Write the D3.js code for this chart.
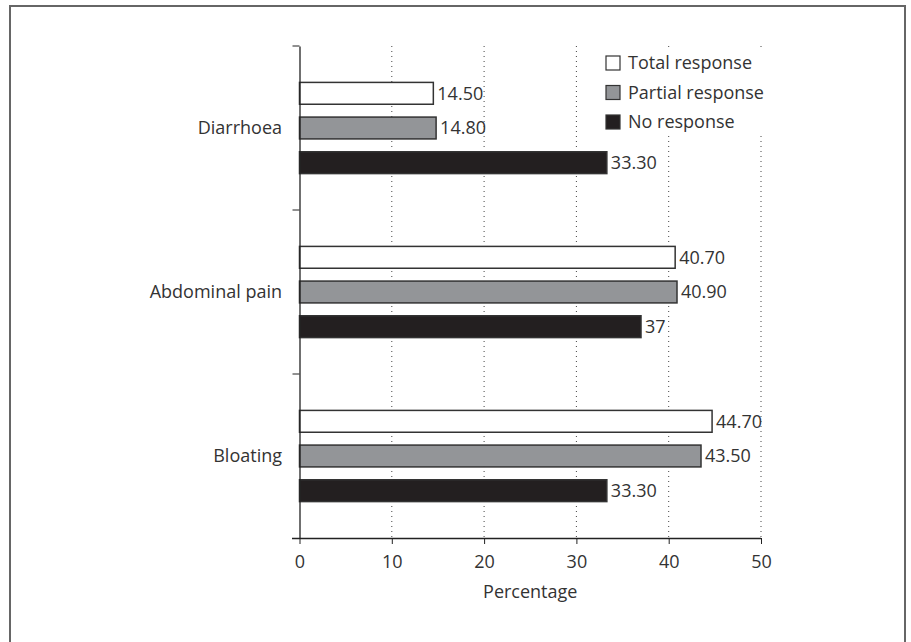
<!DOCTYPE html>
<html><head><meta charset="utf-8">
<script src="https://cdn.jsdelivr.net/npm/d3@7"></script>
<style>body{margin:0;background:#fff}svg{display:block}</style>
</head><body>
<svg id="c" width="911" height="642"></svg>
<script>
const categories = ["Diarrhoea", "Abdominal pain", "Bloating"];
const seriesNames = ["Total response", "Partial response", "No response"];
const totalResponse = [14.5, 40.7, 44.7];
const partialResponse = [14.8, 40.9, 43.5];
const noResponse = [33.3, 37, 33.3];
const valueLabels = [["14.50", "40.70", "44.70"], ["14.80", "40.90", "43.50"], ["33.30", "37", "33.30"]];
const xTicks = [0, 10, 20, 30, 40, 50];
const colors = ["#ffffff", "#939598", "#231f20"];

const series = [totalResponse, partialResponse, noResponse];
const svg = d3.select("#c");
const font = "'Open Sans', 'Noto Sans', sans-serif";
const fs = 18;
const txt = "#333";

svg.append("rect").attr("x", 10).attr("y", 6).attr("width", 895).attr("height", 660)
  .attr("fill", "none").attr("stroke", "#666").attr("stroke-width", 2);

const x = d3.scaleLinear().domain([0, 50]).range([299.5, 761]);
const y = d3.scaleBand().domain(categories).range([46, 538]);
const yi = d3.scaleBand().domain(d3.range(3)).range([0, y.bandwidth()]).paddingInner(0.37).paddingOuter(1.05);

// grid
const grid = svg.append("g");
xTicks.slice(1).forEach(t => {
  grid.append("line").attr("x1", x(t)).attr("x2", x(t)).attr("y1", 46).attr("y2", 538)
    .attr("stroke", "#444").attr("stroke-width", 1).attr("stroke-dasharray", "1,4");
});

// legend background
svg.append("rect").attr("x", 590).attr("y", 47).attr("width", 185).attr("height", 89).attr("fill", "#fff");

// bars
categories.forEach((c, ci) => {
  series.forEach((s, si) => {
    const yy = y(c) + yi(si);
    svg.append("rect").attr("x", x(0)).attr("y", yy).attr("width", x(s[ci]) - x(0)).attr("height", yi.bandwidth())
      .attr("fill", colors[si]).attr("stroke", "#333").attr("stroke-width", 1.5);
    svg.append("text").attr("x", x(s[ci]) + 4).attr("y", yy + yi.bandwidth() / 2).attr("dy", "0.35em")
      .attr("font-family", font).attr("font-size", fs).attr("fill", txt).text(valueLabels[si][ci]);
  });
});

// axes
const xAxis = svg.append("g").attr("transform", "translate(0,538)")
  .call(d3.axisBottom(x).tickValues(xTicks).tickSize(6).tickSizeOuter(0).tickPadding(11));
xAxis.select(".domain").attr("d", `M292,0.5H${x(50)}`).attr("stroke", "#222").attr("stroke-width", 1.3);
xAxis.selectAll(".tick line").attr("stroke", "#222");
xAxis.selectAll("text").attr("font-family", font).attr("font-size", fs).attr("fill", txt);

const yAxis = svg.append("g").attr("transform", `translate(${x(0)},0)`)
  .call(d3.axisLeft(y).tickValues([]).tickSizeOuter(0));
yAxis.select(".domain").attr("stroke", "#222").attr("stroke-width", 1.3);
categories.forEach(c => {
  yAxis.append("line").attr("x1", -7).attr("x2", 0).attr("y1", y(c)).attr("y2", y(c)).attr("stroke", "#222");
  svg.append("text").attr("x", 282).attr("y", y(c) + y.bandwidth() / 2).attr("dy", "0.35em").attr("text-anchor", "end")
    .attr("font-family", font).attr("font-size", fs).attr("fill", txt).text(c);
});

svg.append("text").attr("x", x(25)).attr("y", 592).attr("dy", "0.35em").attr("text-anchor", "middle")
  .attr("font-family", font).attr("font-size", fs).attr("fill", txt).text("Percentage");

// legend
seriesNames.forEach((n, i) => {
  const ly = 63 + i * 29.5;
  svg.append("rect").attr("x", 606).attr("y", ly - 7).attr("width", 14).attr("height", 14)
    .attr("fill", colors[i]).attr("stroke", "#333").attr("stroke-width", 1.2);
  svg.append("text").attr("x", 628).attr("y", ly).attr("dy", "0.35em")
    .attr("font-family", font).attr("font-size", fs).attr("fill", txt).text(n);
});
</script>
</body></html>
